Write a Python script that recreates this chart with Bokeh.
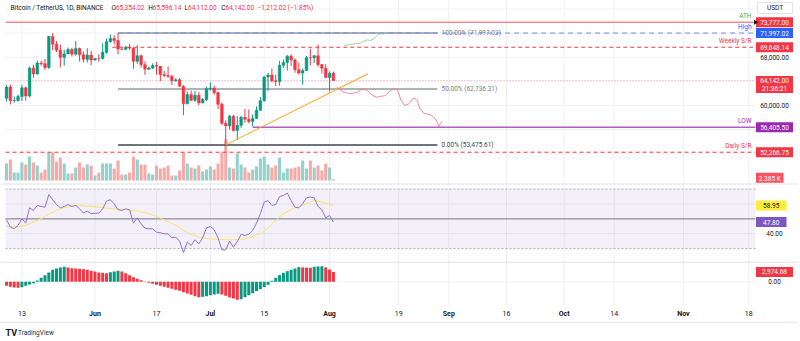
import pandas as pd
from bokeh.plotting import figure
from bokeh.models import Range1d, ColumnDataSource
from bokeh.core.properties import value
from bokeh.embed import file_html
from bokeh.resources import INLINE

# ---------------- data ----------------
dates = pd.date_range("2024-05-09", "2024-08-02", freq="D")

opens = [61191, 63074, 60799, 60825, 61484, 62938, 61577, 66206, 65235, 67024, 66915, 66274, 71446, 70148, 69166, 67969, 68549, 69290, 68507, 69436, 68398, 67652, 68352,
         67540, 67766, 67765, 68809, 70567, 71082, 70757, 69342, 69305, 69648, 69512, 67322, 68241, 66757, 66011, 66191, 66640, 66490, 65140, 64960, 64828, 64096, 64253, 63180, 60277, 61806, 60864, 61706, 60427, 60986,
         62772, 62899, 62135, 60208, 57050, 56628, 58231, 55857, 56714, 58051, 57725, 57339, 57889, 59204, 60797, 64724, 65043, 64087, 63987, 66660, 67139, 68165, 67532, 65936, 65372, 65778, 67907, 67896, 68249, 66784, 66188,
         64629, 65354.02]
highs = [63404, 63457, 61515, 61818, 63450, 63120, 66444, 66752, 67451, 67400, 67700, 71515, 71979, 70666, 70096, 69250, 69610, 69562, 70687, 69591, 68935, 69500, 69044,
         67865, 68460, 70288, 71063, 71758, 71625, 71997.02, 69584, 69850, 70195, 69563, 69999, 68453, 67294, 66445, 66983, 67188, 66575, 65738, 66482, 65066, 64525, 64523, 63370, 62293, 62487, 62389, 62225, 61224, 63058,
         63861, 63288, 62285, 60499, 57546, 58475, 58475, 58236, 58296, 59470, 59359, 58526, 59850, 61420, 64900, 65388, 66128, 65133, 67386, 67598, 68366, 68474, 67818, 67102, 66175, 68200, 69399, 68318, 70079, 66800, 66849,
         65659, 65596.14]
lows = [60648, 60187, 60487, 60632, 60750, 60800, 61320, 64603, 65106, 66600, 65857, 66060, 69162, 68835, 66312, 66600, 68500, 68128, 68250, 67278, 67124, 67128, 66670,
        67441, 67257, 67612, 68567, 70383, 70119, 68500, 69180, 69125, 69172, 66051, 66902, 66303, 65056, 65848, 66034, 65104, 64060, 64693, 64559, 63379, 63943, 63178, 58402, 60239, 60713, 60606, 60063, 60383, 60712,
        62497, 61806, 59400, 56771, 53485, 56018, 55724, 54260, 56289, 57157, 57052, 56542, 57757, 59194, 60632, 62373, 63854, 63238, 63300, 66222, 65777, 66559, 65441, 65111, 63456, 65754, 66669, 67066, 66428, 65302, 64530,
        62302, 64112.00]
closes = [63074, 60799, 60825, 61484, 62938, 61577, 66206, 65235, 67024, 66915, 66274, 71446, 70148, 69166, 67969, 68549, 69290, 68507, 69436, 68398, 67652, 68352, 67540,
          67766, 67765, 68809, 70567, 71082, 70757, 69342, 69305, 69648, 69512, 67322, 68241, 66757, 66011, 66191, 66640, 66490, 65140, 64960, 64828, 64096, 64253, 63180, 60277, 61806, 60864, 61706, 60427, 60986, 62772,
          62899, 62135, 60208, 57050, 56628, 58231, 55857, 56714, 58051, 57725, 57339, 57889, 59204, 60797, 64724, 65043, 64087, 63987, 66660, 67139, 68165, 67532, 65936, 65372, 65778, 67907, 67896, 68249, 66784, 66188, 64629,
          65354, 64142.00]
volume_k = [34, 42, 16, 16, 36, 32, 48, 36, 30, 16, 22, 56, 56, 38, 46, 34, 14, 14, 26, 36, 26, 32, 30,
            10, 16, 34, 34, 34, 24, 40, 12, 12, 16, 48, 42, 32, 32, 14, 12, 30, 24, 26, 30, 10, 10, 20, 56, 34, 26, 24, 30, 18, 22,
            28, 22, 34, 56, 82, 26, 24, 54, 32, 26, 16, 22, 28, 44, 48, 32, 26, 30, 46, 16, 24, 24, 26, 28, 40, 24, 40, 26, 30, 20, 34,
            26, 2.385]
rsi = [49.3, 44.4, 43.3, 45.5, 50.0, 47.1, 57.4, 55.6, 59.0, 58.3, 57.8, 66.4, 62.8, 59.6, 57.4, 58.3, 59.6, 58.3, 59.0, 56.7, 53.8, 55.2, 53.4,
       53.8, 53.8, 56.7, 61.9, 62.8, 60.1, 56.1, 55.6, 56.7, 56.1, 47.1, 50.7, 46.6, 43.7, 43.3, 43.3, 41.0, 40.6, 39.9, 39.9, 37.2, 37.7, 35.0, 27.1, 34.3, 32.1, 35.9, 33.2, 37.2, 43.9,
       44.8, 42.6, 37.2, 29.1, 29.1, 35.0, 30.9, 34.8, 39.5, 38.8, 39.5, 42.2, 47.1, 53.4, 61.2, 62.3, 59.0, 59.6, 65.0, 65.7, 67.3, 62.3, 57.8, 57.4, 60.1, 64.1, 64.6, 64.1, 58.3, 56.1, 50.7,
       52.2, 47.80]
rsi_ma = [44.8, 44.8, 44.8, 44.8, 45.1, 45.7, 46.6, 47.8, 48.9, 50.0, 51.6, 53.1, 54.5, 55.6, 56.7, 57.6, 58.1, 58.5, 59.0, 59.0, 58.7, 58.5, 58.3,
          58.1, 57.8, 57.4, 57.2, 57.0, 56.7, 56.5, 56.3, 56.1, 55.8, 55.6, 55.2, 54.5, 54.0, 53.4, 52.5, 51.6, 50.4, 49.3, 48.2, 46.9, 45.5, 44.2, 42.4, 40.8, 39.5, 38.6, 37.7, 37.2, 36.8,
          36.5, 36.3, 36.1, 36.1, 35.9, 35.9, 35.9, 36.1, 36.3, 36.5, 37.2, 38.1, 39.2, 39.9, 41.5, 43.7, 46.4, 48.9, 51.3, 53.4, 54.7, 56.1, 57.4, 58.3, 59.2, 60.1, 61.4, 62.3, 61.9, 61.2, 60.5,
          59.9, 58.95]
ao = [-1200, -1500, -1700, -1800, -1600, -1200, -800, -400, 400, 1200, 2000, 2800, 3600, 4000, 4300, 4500, 4300, 4100, 4000, 3950, 3800, 3600, 3300,
      3100, 2800, 2700, 2600, 2900, 3100, 3300, 3100, 2600, 2000, 1400, 900, 500, 100, -300, -600, -900, -1200, -1500, -1800, -2100, -2400, -2700, -3100, -3500, -3900, -4300, -4600, -4500,
      -4300, -4000, -3800, -3600, -3800, -4200, -4700, -5000, -5400, -5200, -4600, -4000, -3400, -2800, -2200, -1600, -900, 300, 1200, 2000, 2700, 3200, 3600, 4000, 4400, 4300, 4250, 4200, 4500,
      4600, 4650, 4300, 3700, 2974.68]

# key levels
ath = 73777.00
fib_high = 71997.02
weekly_sr = 69648.14
last_price = 64142.00
fib_mid = 62736.31
low_level = 56405.50
fib_low = 53475.61
daily_sr = 52266.75

# drawn projections (date offset in days from 13 May, price)
green_path_d = [83.7, 85.4, 86.7, 88.0, 88.9, 89.8, 90.6, 91.5, 92.4, 93.2, 94.0]
green_path_p = [69937, 70103, 70219, 70318, 70649, 70881, 70765, 71046, 71593, 71874, 71791]
red_path_d = [81.8, 83.7, 85.4, 87.2, 88.5, 89.8, 91.1, 92.4, 93.2, 94.5, 95.8, 96.9, 97.7, 98.6, 99.5, 100.6, 101.9, 102.8, 103.5, 104.5, 106.2, 107.1, 108.0, 108.4, 108.8, 109.3]
red_path_p = [63033, 62205, 61940, 62205, 62768, 62487, 61659, 61378, 61494, 61659, 62487, 62768, 62487, 60831, 60004, 60285, 61278, 60831, 59457, 58729, 58464, 58066, 57238, 56526, 56974, 57404]
trend_d = [53.0, 90.0]
trend_p = [53485, 65250]

time_ticks = ["2024-05-13", "2024-06-01", "2024-06-17", "2024-07-01", "2024-07-15", "2024-08-01", "2024-08-19",
              "2024-09-01", "2024-09-16", "2024-10-01", "2024-10-14", "2024-11-01", "2024-11-18"]
time_labels = ["13", "Jun", "17", "Jul", "15", "Aug", "19", "Sep", "16", "Oct", "14", "Nov", "18"]
price_grid = [52000, 56000, 60000, 64000, 68000, 72000, 76000]
price_tick_labels = [68000, 60000]

# ---------------- layout constants ----------------
W, H = 800, 341
FONT = "Roboto"
X0_PX, PX_PER_DAY = 21.4, 3.846
PANE_L, PANE_R = 5, 755
origin = pd.Timestamp("2024-05-13")
day = [(d - origin).days for d in dates]
tick_days = [(pd.Timestamp(t) - origin).days for t in time_ticks]
right_day = (PANE_R - X0_PX) / PX_PER_DAY

UP, DOWN = "#089981", "#f23645"
cols = [UP if c >= o else DOWN for o, c in zip(opens, closes)]
vcols = ["#92d2cc" if c >= o else "#f7a9a8" for o, c in zip(opens, closes)]
aocols = [DOWN] + [UP if ao[i] >= ao[i - 1] else DOWN for i in range(1, len(ao))]

src = ColumnDataSource(dict(x=day, o=opens, h=highs, l=lows, c=closes,
                            top=[max(a, b) for a, b in zip(opens, closes)],
                            bot=[min(a, b) for a, b in zip(opens, closes)],
                            col=cols, vcol=vcols, vol=volume_k, rsi=rsi, ma=rsi_ma,
                            ao=ao, aocol=aocols))

p = figure(width=W, height=H, output_backend="svg", toolbar_location=None,
           x_range=Range1d(-X0_PX / PX_PER_DAY, (W - X0_PX) / PX_PER_DAY),
           y_range=Range1d(20930, 77387),
           x_axis_location=None, y_axis_location=None, min_border=0)
p.outline_line_color = None
p.grid.visible = False
p.background_fill_color = "white"
p.border_fill_color = "white"
p.extra_x_ranges = {"px": Range1d(0, W)}
p.extra_y_ranges = {"px": Range1d(H, 0), "vol": Range1d(-322, 360),
                    "rsi": Range1d(-32.57, 196.9), "ao": Range1d(-17910, 84390)}

GRID = "#eef0f5"
# vertical grid
p.segment(x0=tick_days, x1=tick_days, y0=[0] * len(tick_days), y1=[305] * len(tick_days),
          y_range_name="px", line_color=GRID, line_width=1)
# price grid
p.segment(x0=[PANE_L] * len(price_grid), x1=[PANE_R] * len(price_grid), y0=price_grid, y1=price_grid,
          x_range_name="px", line_color=GRID, line_width=1)
p.segment(x0=[PANE_L] * 2, x1=[PANE_R] * 2, y0=[40, 60], y1=[40, 60], x_range_name="px",
          y_range_name="rsi", line_color=GRID)
p.segment(x0=[PANE_L], x1=[PANE_R], y0=[0], y1=[0], x_range_name="px", y_range_name="ao", line_color=GRID)

# pane separators
p.segment(x0=[0, 0, 0], x1=[797, 797, 797], y0=[183.5, 261.7, 321.7], y1=[183.5, 261.7, 321.7],
          x_range_name="px", y_range_name="px", line_color="#e0e3eb", line_width=1)

# RSI pane
p.quad(left=[PANE_L], right=[PANE_R], bottom=[30], top=[70], x_range_name="px", y_range_name="rsi",
       fill_color="#7e57c2", fill_alpha=0.09, line_color=None)
p.segment(x0=[PANE_L] * 2, x1=[PANE_R] * 2, y0=[70, 30], y1=[70, 30], x_range_name="px", y_range_name="rsi",
          line_color="#9598a1", line_dash="2 2", line_width=0.8)
p.segment(x0=[PANE_L], x1=[PANE_R], y0=[50], y1=[50], x_range_name="px", y_range_name="rsi",
          line_color="#8a8d96", line_width=1.2)
p.line("x", "ma", source=src, y_range_name="rsi", line_color="#fbe36a", line_width=1)
p.line("x", "rsi", source=src, y_range_name="rsi", line_color="#8f73cf", line_width=1)

# AO pane
p.vbar(x="x", top="ao", bottom=0, width=0.78, source=src, y_range_name="ao", fill_color="aocol", line_color=None)

# volume
p.vbar(x="x", top="vol", bottom=0, width=0.8, source=src, y_range_name="vol", fill_color="vcol", line_color=None)

# horizontal levels
p.segment(x0=[PANE_L], x1=[PANE_R], y0=[ath], y1=[ath], x_range_name="px", line_color="#f58a93", line_width=1.4)
p.segment(x0=[PANE_L], x1=[PANE_R], y0=[daily_sr], y1=[daily_sr], x_range_name="px", line_color="#f23645",
          line_dash="4 3", line_width=1)
p.segment(x0=[PANE_L], x1=[PANE_R], y0=[last_price], y1=[last_price], x_range_name="px", line_color="#f5a0a7",
          line_dash="1 2", line_width=1)
p.segment(x0=[23.5], x1=[right_day], y0=[weekly_sr], y1=[weekly_sr], line_color="#f23645", line_dash="4 3", line_width=1)
p.segment(x0=[60], x1=[right_day], y0=[low_level], y1=[low_level], line_color="#b35cc4", line_width=1.6)
# fib retracement
p.segment(x0=[25, 25, 25], x1=[108, 108, 108], y0=[fib_high, fib_mid, fib_low], y1=[fib_high, fib_mid, fib_low],
          line_color=["#9598a1", "#9598a1", "#434651"], line_width=1.5)
p.segment(x0=[25], x1=[right_day], y0=[fib_high], y1=[fib_high], line_color="#6f8ff7", line_dash="5 4", line_width=1)

# candles
p.segment(x0="x", x1="x", y0="l", y1="h", source=src, line_color="col", line_width=1)
p.vbar(x="x", top="top", bottom="bot", width=0.7, source=src, fill_color="col", line_color="col", line_width=0.5)

# trendline and projections
p.line(trend_d, trend_p, line_color="#ffa726", line_width=1.1)
p.line(green_path_d, green_path_p, line_color="#8fd18f", line_width=0.9)
p.line(red_path_d, red_path_p, line_color="#f47c84", line_width=0.9)

TXT = dict(text_font=value(FONT), text_font_size="6.5px", text_baseline="middle")

# fib texts
p.text(x=[441] * 3, y=[fib_high, fib_mid, fib_low],
       text=["100.00% (71,997.02)", "50.00% (62,736.31)", "0.00% (53,475.61)"],
       x_range_name="px", text_color=["#787b86", "#787b86", "#434651"], text_align="left", **TXT)

# level names above lines
p.text(x=[751] * 5, y=[ath, fib_high, weekly_sr, low_level, daily_sr],
       text=["ATH", "High", "Weekly S/R", "LOW", "Daily S/R"], x_range_name="px",
       text_color=["#4caf50", "#2962ff", "#f23645", "#9c27b0", "#f23645"], text_align="right",
       text_font=value(FONT), text_font_size="6.5px", text_baseline="bottom", y_offset=-2)

# header
hx = [10, 111, 115.4, 147.7, 152.3, 184, 187.5, 220.7, 225, 257]
htxt = ["Bitcoin / TetherUS, 1D, BINANCE", "O", "65,354.02", "H", "65,596.14", "L", "64,112.00", "C", "64,142.00",
        "\u22121,212.02 (\u22121.85%)"]
hcol = ["#131722", "#131722", "#f23645", "#131722", "#f23645", "#131722", "#f23645", "#131722", "#f23645", "#f23645"]
p.text(x=hx, y=[7] * len(hx), text=htxt, x_range_name="px", y_range_name="px", text_color=hcol, text_align="left", **TXT)

# right price scale
AX_X = 774
p.text(x=[AX_X] * len(price_tick_labels), y=price_tick_labels, text=[f"{v:,.2f}" for v in price_tick_labels],
       x_range_name="px", text_color="#131722", text_align="center", **TXT)
p.text(x=[AX_X], y=[40], text=["40.00"], x_range_name="px", y_range_name="rsi", text_color="#131722", text_align="center", **TXT)
p.text(x=[AX_X], y=[0], text=["0.00"], x_range_name="px", y_range_name="ao", text_color="#131722", text_align="center", **TXT)


def tag(val, lines, fill, rng=None, txt_color="white", up=5, down=5, left=755.5, right=792.5):
    r = p.y_range if rng is None else p.extra_y_ranges[rng]
    u = abs(r.end - r.start) / H
    kw = {} if rng is None else {"y_range_name": rng}
    p.quad(left=[left], right=[right], top=[val + up * u], bottom=[val - down * u], x_range_name="px",
           fill_color=fill, line_color=None, **kw)
    for i, ln in enumerate(lines):
        p.text(x=[(left + right) / 2], y=[val], text=[ln], x_range_name="px", text_color=txt_color,
               text_align="center", y_offset=i * 8.5, **TXT, **kw)


tag(ath, ["73,777.00"], "#f23645")
tag(fib_high, ["71,997.02"], "#2962ff")
tag(weekly_sr, ["69,648.14"], "#f23645")
tag(last_price, ["64,142.00", "21:36:21"], "#f23645", up=4.5, down=12.5)
tag(low_level, ["56,405.50"], "#9c27b0")
tag(daily_sr, ["52,266.75"], "#f23645")
tag(volume_k[-1], ["2.385 K"], "#f7525f", rng="vol", up=6.5, down=3.5, right=783)
tag(rsi_ma[-1], ["58.95"], "#ffeb3b", rng="rsi", txt_color="#131722", right=786)
tag(rsi[-1], ["47.80"], "#7e57c2", rng="rsi", right=786)
tag(ao[-1], ["2,974.68"], "#f23645", rng="ao")
p.scatter(x=[755], y=[ath], marker="triangle", angle=-1.5708, size=5, x_range_name="px",
          fill_color="#131722", line_color=None)

# currency box
p.quad(left=[757], right=[792], top=[2], bottom=[13], x_range_name="px", y_range_name="px",
       fill_color="white", line_color="#e0e3eb", line_width=1)
p.text(x=[774.5], y=[7.5], text=["USDT"], x_range_name="px", y_range_name="px", text_color="#131722",
       text_align="center", **TXT)

# time axis
is_month = [not t.isdigit() for t in time_labels]
p.text(x=[d for d, m in zip(tick_days, is_month) if not m], y=[313] * sum(not m for m in is_month),
       text=[t for t, m in zip(time_labels, is_month) if not m], y_range_name="px",
       text_color="#131722", text_align="center", text_font=value(FONT), text_font_size="7px", text_baseline="middle")
p.text(x=[d for d, m in zip(tick_days, is_month) if m], y=[313] * sum(is_month),
       text=[t for t, m in zip(time_labels, is_month) if m], y_range_name="px",
       text_color="#131722", text_align="center", text_font=value(FONT), text_font_size="7px",
       text_font_style="bold", text_baseline="middle")

# footer logo
p.text(x=[5], y=[332], text=["TV"], x_range_name="px", y_range_name="px", text_color="#131722",
       text_align="left", text_font=value(FONT), text_font_size="9px", text_font_style="bold", text_baseline="middle")
p.text(x=[17.5], y=[332], text=["TradingView"], x_range_name="px", y_range_name="px", text_color="#2a2e39",
       text_align="left", text_font=value(FONT), text_font_size="6.5px", text_baseline="middle")

open("out.html", "w").write(file_html(p, INLINE))
